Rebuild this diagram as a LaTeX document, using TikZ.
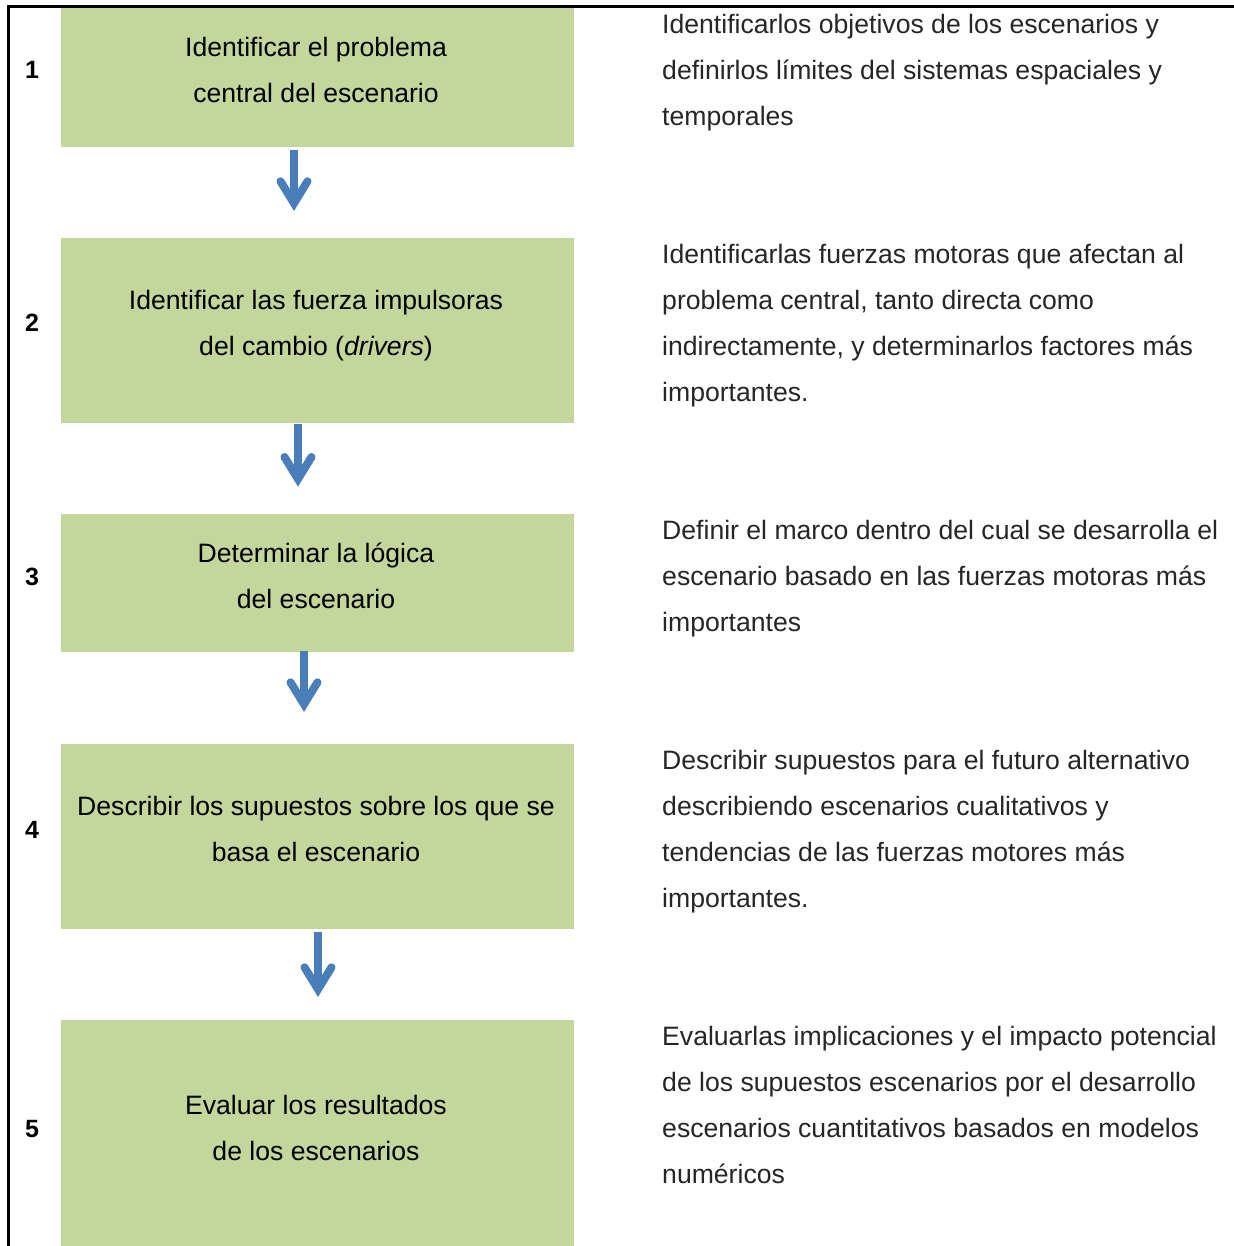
\documentclass[tikz,border=0pt]{standalone}
\usepackage{fontspec}
\setmainfont{Liberation Sans}
\usetikzlibrary{calc}
\definecolor{boxgreen}{HTML}{C3D69B}
\definecolor{arrblue}{HTML}{4A7EBB}
\definecolor{txtgray}{HTML}{262626}
\begin{document}
\begin{tikzpicture}[x=1pt,y=-1pt,
  box/.style={fill=boxgreen, draw=none, minimum width=513pt, inner sep=0pt},
  boxtext/.style={anchor=north, inner sep=0pt, align=center, text=black,
    font=\fontsize{26.6}{46}\selectfont},
  desc/.style={anchor=north west, inner sep=0pt, align=left, text=txtgray,
    font=\fontsize{26.6}{46}\selectfont},
  num/.style={anchor=base, inner sep=0pt, text=black,
    font=\fontsize{25}{28}\selectfont\bfseries},
  shaft/.style={draw=arrblue, line width=8pt, line cap=butt},
  head/.style={draw=arrblue, line width=8pt, line cap=round, line join=miter}
]
\useasboundingbox (0,0) rectangle (1233,1246);
\fill[white] (0,0) rectangle (1233,1246);

% boxes
\node[box, minimum height=139pt] (b1) at (317.5,77.5) {};
\node[box, minimum height=185pt] (b2) at (317.5,330.5) {};
\node[box, minimum height=138pt] (b3) at (317.5,583) {};
\node[box, minimum height=185pt] (b4) at (317.5,836.5) {};
\node[box, minimum height=227pt] (b5) at (317.5,1133.5) {};

% frame
\draw[line width=2.7pt] (8.7,1250) -- (8.7,6.5) -- (1240,6.5);

% box texts
\node[boxtext] (t1) at (316,36.3) {\rule{0pt}{20pt}Identificar el problema\\central del escenario};
\node[boxtext] (t2) at (316,289.3) {\rule{0pt}{20pt}Identificar las fuerza impulsoras\\del cambio (\textit{drivers})};
\node[boxtext] (t3) at (316,542.3) {\rule{0pt}{20pt}Determinar la lógica\\del escenario};
\node[boxtext] (t4) at (316,795.3) {\rule{0pt}{20pt}Describir los supuestos sobre los que se\\basa el escenario};
\node[boxtext] (t5) at (316,1094.3) {\rule{0pt}{20pt}Evaluar los resultados\\de los escenarios};

% numbers
\node[num] (n1) at (32,79) {1};
\node[num] (n2) at (32,331) {2};
\node[num] (n3) at (32,585) {3};
\node[num] (n4) at (32,838) {4};
\node[num] (n5) at (32,1137) {5};

% descriptions
\node[desc] (d1) at (662,13.7) {\rule{0pt}{20pt}Identificarlos objetivos de los escenarios y\\definirlos límites del sistemas espaciales y\\temporales};
\node[desc] (d2) at (662,243.7) {\rule{0pt}{20pt}Identificarlas fuerzas motoras que afectan al\\problema central, tanto directa como\\indirectamente, y determinarlos factores más\\importantes.};
\node[desc] (d3) at (662,519.7) {\rule{0pt}{20pt}Definir el marco dentro del cual se desarrolla el\\escenario basado en las fuerzas motoras más\\importantes};
\node[desc] (d4) at (662,749.7) {\rule{0pt}{20pt}Describir supuestos para el futuro alternativo\\describiendo escenarios cualitativos y\\tendencias de las fuerzas motores más\\importantes.};
\node[desc] (d5) at (662,1025.7) {\rule{0pt}{20pt}Evaluarlas implicaciones y el impacto potencial\\de los supuestos escenarios por el desarrollo\\escenarios cuantitativos basados en modelos\\numéricos};

% arrows
\coordinate (a1s) at (294,150);  \coordinate (a1e) at (294,203.3);
\coordinate (a2s) at (298,424);  \coordinate (a2e) at (298,479);
\coordinate (a3s) at (304,651);  \coordinate (a3e) at (304,704.3);
\coordinate (a4s) at (318,932);  \coordinate (a4e) at (318,989.3);
\foreach \i in {1,2,3,4}{
  \draw[shaft] (a\i s) -- (a\i e);
  \draw[head] ($(a\i e)+(-13.5,-22)$) -- (a\i e) -- ($(a\i e)+(13.5,-22)$);
}
\end{tikzpicture}
\end{document}
